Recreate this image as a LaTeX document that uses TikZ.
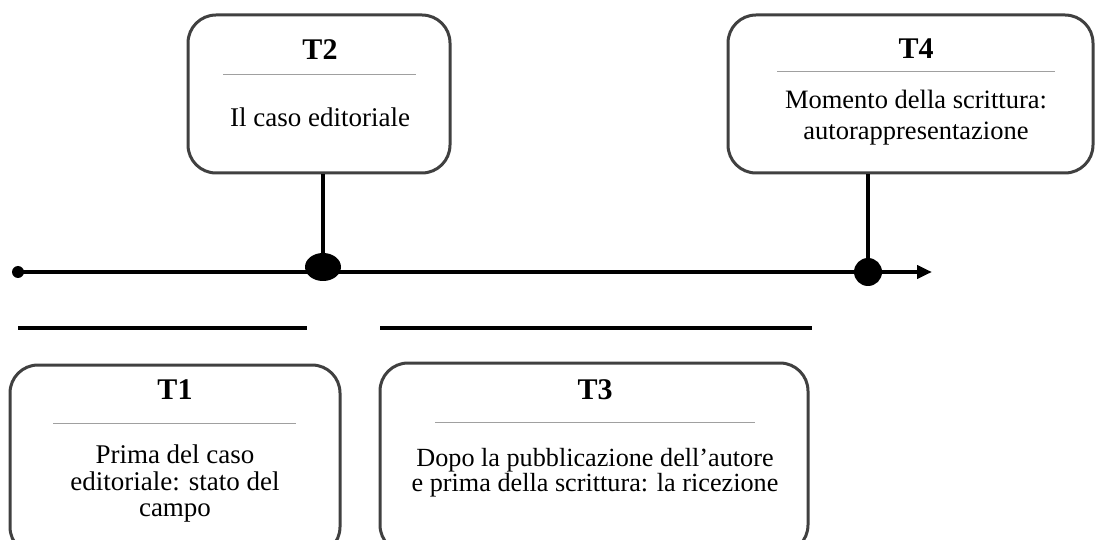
\documentclass[tikz,border=0pt]{standalone}
\usepackage{fontspec}
\setmainfont{Liberation Serif}
\usetikzlibrary{arrows.meta,shapes.geometric}
\definecolor{boxgray}{HTML}{404040}
\definecolor{sepgray}{HTML}{A0A0A0}
\tikzset{
  tbox/.style={draw=boxgray, line width=3pt, rounded corners=28pt, inner sep=0pt},
  ttitle/.style={font=\fontsize{30}{32}\selectfont\bfseries, inner sep=0pt},
  tbody/.style={font=\fontsize{27}{30}\selectfont, align=center, inner sep=0pt},
  sepline/.style={draw=sepgray, line width=1pt},
  tline/.style={line width=4pt},
  bar/.style={line width=4.5pt},
  conn/.style={line width=4pt}
}
\begin{document}
\begin{tikzpicture}[x=1pt,y=-1pt]
\useasboundingbox (0,0) rectangle (1096,540);
\clip (0,0) rectangle (1096,540);
% boxes
\node[tbox, minimum width=262pt, minimum height=158pt] (b2) at (319,94) {};
\node[tbox, minimum width=365pt, minimum height=158pt] (b4) at (910.5,94) {};
\node[tbox, minimum width=330pt, minimum height=190pt] (b1) at (175,460) {};
\node[tbox, minimum width=428pt, minimum height=190pt] (b3) at (594,458) {};
% titles
\node[ttitle] (h2) at (320,50) {T2};
\node[ttitle] (h4) at (916,49) {T4};
\node[ttitle] (h1) at (175,390) {T1};
\node[ttitle] (h3) at (595,390) {T3};
% separators
\coordinate (s2a) at (223,75); \coordinate (s2b) at (416,75);
\coordinate (s4a) at (777,72); \coordinate (s4b) at (1055,72);
\coordinate (s1a) at (53,423); \coordinate (s1b) at (296,423);
\coordinate (s3a) at (435,422); \coordinate (s3b) at (755,422);
\draw[sepline] (s2a) -- (s2b);
\draw[sepline] (s4a) -- (s4b);
\draw[sepline] (s1a) -- (s1b);
\draw[sepline] (s3a) -- (s3b);
% body texts
\node[tbody] (x2) at (320,117) {Il caso editoriale};
\node[tbody, font=\fontsize{26.5}{31}\selectfont] (x4) at (916,118) {Momento della scrittura:\\autorappresentazione};
\node[tbody, font=\fontsize{27}{26.5}\selectfont] (x1) at (175,484) {Prima del caso\\editoriale: stato del\\campo};
\node[tbody, font=\fontsize{26.2}{25}\selectfont] (x3) at (595,473) {Dopo la pubblicazione dell’autore\\e prima della scrittura: la ricezione};
% timeline
\node[circle, fill=black, minimum size=12pt, inner sep=0pt] (d0) at (18,272) {};
\coordinate (tend) at (932,272);
\draw[tline, -{Triangle[length=15pt,width=13pt]}] (d0.center) -- (tend);
\node[ellipse, fill=black, minimum width=36pt, minimum height=28pt, inner sep=0pt] (d2) at (323,267) {};
\node[circle, fill=black, minimum size=28pt, inner sep=0pt] (d4) at (868,272) {};
% connectors
\draw[conn] (b2.south -| d2) -- (d2.center);
\draw[conn] (b4.south -| d4) -- (d4.center);
% bars
\coordinate (p1a) at (18,328); \coordinate (p1b) at (307,328);
\coordinate (p3a) at (380,328); \coordinate (p3b) at (812,328);
\draw[bar] (p1a) -- (p1b);
\draw[bar] (p3a) -- (p3b);
\end{tikzpicture}
\end{document}
